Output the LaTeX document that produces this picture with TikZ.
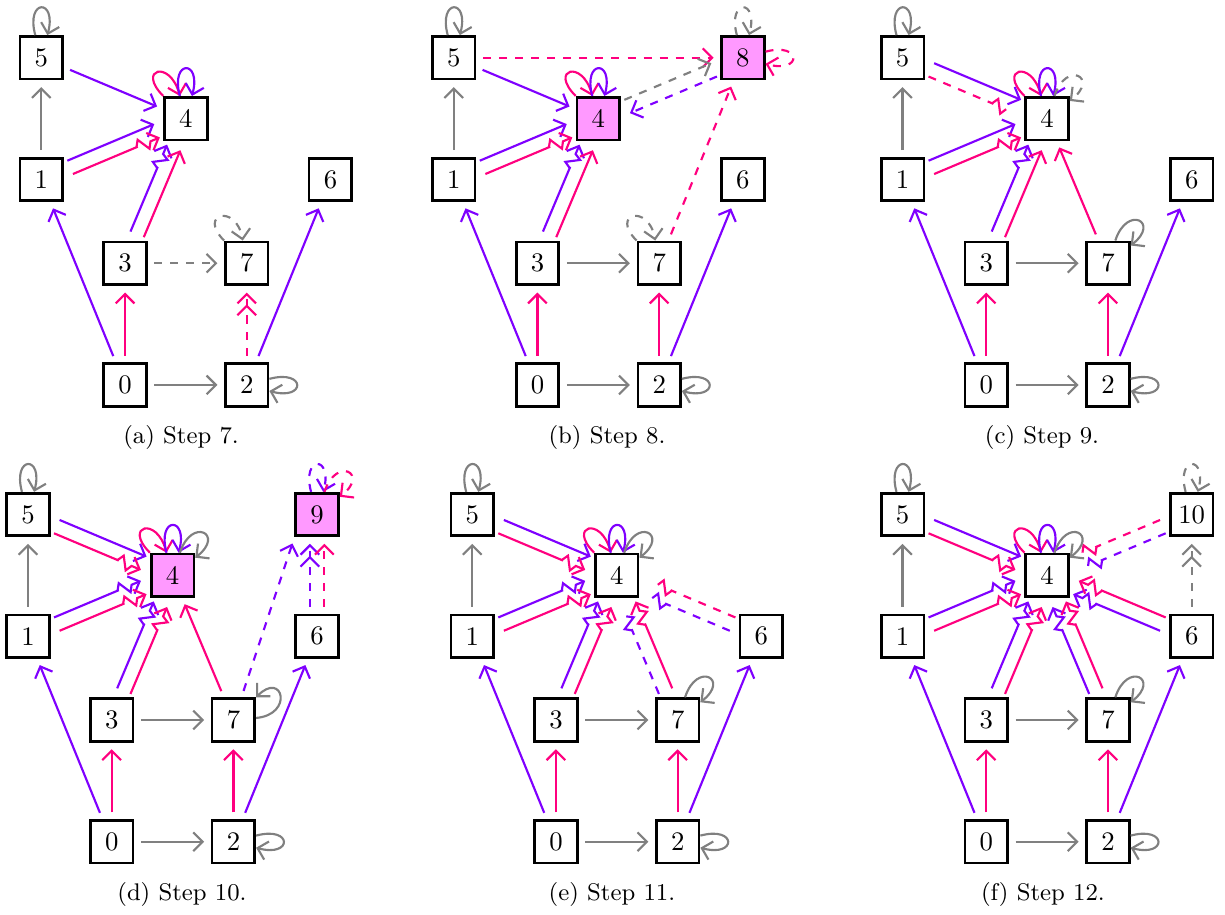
\documentclass[tikz,border=0pt]{standalone}
\usetikzlibrary{positioning, arrows.meta, decorations.markings}
\definecolor{cviolet}{RGB}{127,0,255}
\definecolor{cpink}{RGB}{255,0,127}
\definecolor{hitcol}{RGB}{255,153,255}
\tikzset{
  box/.style={rectangle, draw=black, line width=1pt, minimum size=0.56cm, inner sep=0pt},
  vio/.style={draw=cviolet},
  pnk/.style={draw=cpink},
  gry/.style={draw=gray},
  link/.style={thick, ->, shorten <=2.5pt, shorten >=2.5pt},
  lp/.style={thick, ->},
  every loop/.style={looseness=4, min distance=5mm},
  sh/.style={transform canvas={shift={(#1:2.7pt)}}},
  zz/.style={-, shorten >=11.5pt, postaction={decorate, decoration={markings,
    mark=at position -2.5pt with {\draw[#1, thick, solid, ->, shorten <=0pt, shorten >=0pt]
      (-9.5pt,0) -- (-8pt,2.4pt) -- (-5.2pt,-2.4pt) -- (-3.8pt,0) -- (0,0);}}}},
  zzn/.style={-, shorten >=11.5pt, postaction={decorate, decoration={markings,
    mark=at position -2.5pt with {\draw[#1, thick, solid, -, shorten <=0pt, shorten >=0pt]
      (-9.5pt,0) -- (-8pt,2.4pt) -- (-5.2pt,-2.4pt) -- (-3.8pt,0);}}}},
}

\begin{document}
\begin{tikzpicture}[on grid, >={Straight Barb[length=3.5pt,width=7pt]}]
\useasboundingbox (0,0) rectangle (16.1,12.025);

% the nodes and edges that all six steps share
\foreach \p/\px/\py/\f in {a/1.643/6.966/white, b/7.064/6.966/hitcol, c/12.962/6.966/white,
                           d/1.468/0.963/hitcol, e/7.307/0.963/white, f/12.962/0.963/white} {
  \node[box] (\p0) at (\px,\py) {0};
  \node[box, right=1.6cm of \p0] (\p2) {2};
  \node[box, above=1.6cm of \p0] (\p3) {3};
  \node[box, above=1.6cm of \p2] (\p7) {7};
  \node[box, above left=1.1cm and 1.1cm of \p3] (\p1) {1};
  \node[box, above=1.6cm of \p1] (\p5) {5};
  \node[box, above right=1.1cm and 1.1cm of \p7] (\p6) {6};
  \node[box, fill=\f, above right=1.9cm and 0.8cm of \p3] (\p4) {4};

  \draw[link, vio] (\p0) -- (\p1);
  \draw[link, pnk] (\p0) -- (\p3);
  \draw[link, gry] (\p0) -- (\p2);
  \draw[link, vio] (\p2) -- (\p6);
  \draw[link, gry] (\p1) -- (\p5);
  \draw[lp, gry] (\p5) to[loop above] (\p5);
  \draw[lp, gry] (\p2) to[loop right] (\p2);
  \draw[lp, pnk] (\p4) to[out=135, in=105, loop] (\p4);
  \draw[lp, vio] (\p4) to[loop above] (\p4);
}

% (a) step 7
\draw[link, vio] (a5) -- (a4);
\draw[link, vio, sh=112.8] (a1) -- (a4);
\draw[link, pnk, zz=cpink, sh=-67.2] (a1) -- (a4);
\draw[link, vio, zz=cviolet, sh=157.2] (a3) -- (a4);
\draw[link, pnk, sh=-22.8] (a3) -- (a4);
\draw[link, gry, dashed] (a3) -- (a7);
\draw[link, pnk, dashed, ->>] (a2) -- (a7);
\draw[lp, gry, dashed] (a7) to[out=135, in=100, loop] (a7);

% (b) step 8
\node[box, fill=hitcol, above=1.6cm of b6] (b8) {8};
\draw[link, vio] (b5) -- (b4);
\draw[link, vio, sh=112.8] (b1) -- (b4);
\draw[link, pnk, zz=cpink, sh=-67.2] (b1) -- (b4);
\draw[link, vio, zz=cviolet, sh=157.2] (b3) -- (b4);
\draw[link, pnk, sh=-22.8] (b3) -- (b4);
\draw[link, gry] (b3) -- (b7);
\draw[link, pnk] (b2) -- (b7);
\draw[lp, gry, dashed] (b7) to[out=135, in=100, loop] (b7);
\draw[link, pnk, dashed] (b5) -- (b8);
\draw[link, gry, dashed, sh=112.8] (b4) -- (b8);
\draw[link, vio, dashed, sh=292.8] (b8) -- (b4);
\draw[link, pnk, dashed] (b7) -- (b8);
\draw[lp, gry, dashed] (b8) to[loop above] (b8);
\draw[lp, pnk, dashed] (b8) to[loop right] (b8);

% (c) step 9
\draw[link, vio, sh=67.2] (c5) -- (c4);
\draw[link, pnk, dashed, zzn=cpink, sh=-112.8] (c5) -- (c4);
\draw[link, vio, sh=112.8] (c1) -- (c4);
\draw[link, pnk, zz=cpink, sh=-67.2] (c1) -- (c4);
\draw[link, vio, zz=cviolet, sh=157.2] (c3) -- (c4);
\draw[link, pnk, sh=-22.8] (c3) -- (c4);
\draw[link, pnk] (c7) -- (c4);
\draw[lp, gry, dashed] (c4) to[out=72, in=38, loop] (c4);
\draw[link, gry] (c3) -- (c7);
\draw[link, pnk] (c2) -- (c7);
\draw[lp, gry] (c7) to[out=72, in=38, loop] (c7);

% (d) step 10
\node[box, fill=hitcol, above=1.6cm of d6] (d9) {9};
\draw[link, vio, sh=67.2] (d5) -- (d4);
\draw[link, pnk, zz=cpink, sh=-112.8] (d5) -- (d4);
\draw[link, vio, zz=cviolet, sh=112.8] (d1) -- (d4);
\draw[link, pnk, zz=cpink, sh=-67.2] (d1) -- (d4);
\draw[link, vio, zz=cviolet, sh=157.2] (d3) -- (d4);
\draw[link, pnk, zz=cpink, sh=-22.8] (d3) -- (d4);
\draw[link, pnk] (d7) -- (d4);
\draw[lp, gry] (d4) to[out=72, in=38, loop] (d4);
\draw[link, gry] (d3) -- (d7);
\draw[link, pnk] (d2) -- (d7);
\draw[lp, gry] (d7) to[out=5, in=45, loop] (d7);
\draw[link, vio, dashed] ([xshift=3pt]d7.north) -- (d9.south west);
\draw[link, vio, dashed, ->>, sh=180] (d6) -- (d9);
\draw[link, pnk, dashed, sh=0] (d6) -- (d9);
\draw[lp, vio, dashed] (d9) to[loop above] (d9);
\draw[lp, pnk, dashed] (d9) to[out=72, in=38, loop] (d9);

% (e) step 11
\draw[link, vio, sh=67.2] (e5) -- (e4);
\draw[link, pnk, zz=cpink, sh=-112.8] (e5) -- (e4);
\draw[link, vio, zz=cviolet, sh=112.8] (e1) -- (e4);
\draw[link, pnk, zz=cpink, sh=-67.2] (e1) -- (e4);
\draw[link, vio, zz=cviolet, sh=157.2] (e3) -- (e4);
\draw[link, pnk, zz=cpink, sh=-22.8] (e3) -- (e4);
\draw[link, vio, dashed, zzn=cviolet, sh=202.8] (e7) -- (e4);
\draw[link, pnk, zz=cpink, sh=22.8] (e7) -- (e4);
\draw[link, pnk, dashed, zzn=cpink, sh=67.2] (e6) -- (e4);
\draw[link, vio, dashed, zzn=cviolet, sh=247.2] (e6) -- (e4);
\draw[lp, gry] (e4) to[out=72, in=38, loop] (e4);
\draw[link, gry] (e3) -- (e7);
\draw[link, pnk] (e2) -- (e7);
\draw[lp, gry] (e7) to[out=72, in=38, loop] (e7);

% (f) step 12
\node[box, above=1.6cm of f6] (f10) {10};
\draw[link, vio, sh=67.2] (f5) -- (f4);
\draw[link, pnk, zz=cpink, sh=-112.8] (f5) -- (f4);
\draw[link, vio, zz=cviolet, sh=112.8] (f1) -- (f4);
\draw[link, pnk, zz=cpink, sh=-67.2] (f1) -- (f4);
\draw[link, vio, zz=cviolet, sh=157.2] (f3) -- (f4);
\draw[link, pnk, zz=cpink, sh=-22.8] (f3) -- (f4);
\draw[link, vio, zz=cviolet, sh=202.8] (f7) -- (f4);
\draw[link, pnk, zz=cpink, sh=22.8] (f7) -- (f4);
\draw[link, vio, zz=cviolet, sh=247.2] (f6) -- (f4);
\draw[link, pnk, zz=cpink, sh=67.2] (f6) -- (f4);
\draw[link, pnk, dashed, zzn=cpink, sh=112.8] (f10) -- (f4);
\draw[link, vio, dashed, zzn=cviolet, sh=292.8] (f10) -- (f4);
\draw[lp, gry] (f4) to[out=72, in=38, loop] (f4);
\draw[link, gry, dashed, ->>] (f6) -- (f10);
\draw[lp, gry, dashed] (f10) to[loop above] (f10);
\draw[link, gry] (f3) -- (f7);
\draw[link, pnk] (f2) -- (f7);
\draw[lp, gry] (f7) to[out=72, in=38, loop] (f7);

% captions
\node[font=\small] (capa) at (2.379,6.282) {(a) Step 7.};
\node[font=\small] (capb) at (7.977,6.282) {(b) Step 8.};
\node[font=\small] (capc) at (13.694,6.282) {(c) Step 9.};
\node[font=\small] (capd) at (2.392,0.263) {(d) Step 10.};
\node[font=\small] (cape) at (8.043,0.263) {(e) Step 11.};
\node[font=\small] (capf) at (13.707,0.263) {(f) Step 12.};
\end{tikzpicture}
\end{document}
